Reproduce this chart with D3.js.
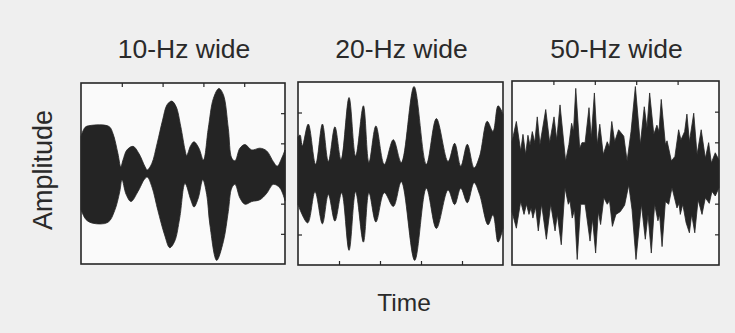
<!DOCTYPE html>
<html>
<head>
<meta charset="utf-8">
<script src="https://cdn.jsdelivr.net/npm/d3@7"></script>
<style>
  html, body { margin: 0; padding: 0; background: #efefef; }
  svg { display: block; }
  text { font-family: "Liberation Sans", Arial, Helvetica, sans-serif; fill: #2a2a2a; }
</style>
</head>
<body>
<svg id="chart" width="735" height="333"></svg>
<script>
// ---------------- DATA (time 0-100 arbitrary units, amplitude -1..1) ----------------
const panelTitles = ["10-Hz wide", "20-Hz wide", "50-Hz wide"];
const xLabel = "Time";
const yLabel = "Amplitude";
const timeTicks = [20, 40, 60, 80];
const ampTicks = [-2/3, -1/3, 0, 1/3, 2/3];

// 10-Hz wide: envelope (upper / lower edge of the dense waveform)
const upper10 = [[0,0.41],[2,0.51],[4.4,0.53],[13.7,0.52],[15.7,0.44],[18.1,0.22],[19.5,0.075],[20.6,0.15],[22.5,0.26],[25.5,0.30],[28.4,0.22],[31.4,0.075],[32.5,0.04],[34.7,0.11],[37.3,0.33],[40,0.59],[42.2,0.76],[44.5,0.80],[46.6,0.74],[48.9,0.52],[51,0.26],[51.8,0.20],[53.8,0.31],[55.4,0.35],[57.8,0.28],[60,0.15],[62.4,0.50],[64.9,0.83],[67.6,0.94],[69.8,0.87],[72.2,0.50],[73.9,0.17],[75.5,0.14],[77.9,0.28],[80.4,0.32],[83.7,0.26],[87.7,0.28],[91,0.25],[94.3,0.13],[96.2,0.08],[98.4,0.17],[100,0.26]];
const lower10 = [[0,-0.40],[2.5,-0.51],[5.9,-0.55],[13.2,-0.54],[16.5,-0.41],[19,-0.20],[20.1,-0.07],[22.1,-0.23],[24.5,-0.31],[27.9,-0.20],[31.2,-0.06],[32.5,-0.04],[34.8,-0.15],[37.7,-0.41],[41,-0.68],[43.5,-0.82],[45.9,-0.75],[48.4,-0.49],[51,-0.11],[53.8,-0.29],[55.4,-0.37],[57.5,-0.27],[59.7,-0.07],[61.6,-0.23],[63.2,-0.57],[66.5,-0.96],[69.8,-0.75],[72.2,-0.42],[73.9,-0.16],[75.5,-0.12],[77.9,-0.27],[80.4,-0.34],[83.7,-0.31],[87.7,-0.29],[91,-0.22],[94.3,-0.12],[97.5,-0.16],[100,-0.30]];

// 20-Hz wide
const upper20 = [[0,0.40],[1,0.42],[2.1,0.30],[5,0.54],[8.6,0.10],[11.9,0.54],[14.8,0.13],[18,0.51],[21,0.15],[24.9,0.83],[28.1,0.19],[31.9,0.74],[34.6,0.12],[38,0.52],[42.1,0.10],[46.5,0.37],[50.4,0.12],[56.6,0.95],[62.6,0.10],[67.5,0.60],[73.2,0.13],[76.4,0.33],[79.4,0.08],[82.6,0.32],[85.9,0.06],[88.6,0.19],[92.3,0.57],[95.1,0.46],[97.6,0.74],[100,0.65]];
const lower20 = [[0,-0.34],[4.7,-0.54],[8.3,-0.20],[11.9,-0.55],[14.8,-0.23],[18,-0.52],[21.3,-0.21],[24.9,-0.84],[28.1,-0.20],[31.9,-0.75],[34.6,-0.21],[38,-0.53],[42.1,-0.21],[46.5,-0.36],[50.4,-0.09],[56.9,-0.95],[62.6,-0.16],[67.5,-0.60],[73.2,-0.18],[76.4,-0.34],[79.4,-0.16],[82.6,-0.32],[85.9,-0.10],[88.6,-0.23],[92.7,-0.56],[95.1,-0.45],[97.6,-0.75],[100,-0.60]];

// 50-Hz wide
const upper50 = [[0,0.34],[2.1,0.56],[4.2,0.24],[5.3,0.42],[6.6,0.20],[7.7,0.41],[8.7,0.30],[9.8,0.45],[11,0.33],[12.2,0.61],[13.5,0.31],[16.3,0.69],[18.2,0.33],[20.3,0.61],[21.6,0.36],[23.2,0.74],[25.9,0.13],[27.5,0.31],[28.8,0.54],[29.7,0.45],[30.8,0.92],[32.7,0.27],[33.8,0.33],[35.3,0.33],[37.2,0.71],[38.3,0.38],[39.8,0.87],[41.2,0.31],[42.4,0.53],[44.1,0.20],[46,0.34],[47.1,0.28],[48.2,0.56],[49.6,0.34],[51.5,0.47],[54,0.40],[55.6,0.13],[57.5,0.45],[59.6,0.94],[62,0.31],[63.9,0.72],[65.2,0.49],[66.5,0.87],[68.5,0.42],[70,0.52],[71,0.45],[72.1,0.80],[74.1,0.31],[74.9,0.35],[77,0.13],[78.7,0.18],[80.5,0.47],[81.6,0.36],[83.4,0.45],[84.5,0.64],[85.7,0.34],[87.8,0.65],[89.4,0.20],[91.4,0.47],[93.4,0.16],[95,0.33],[96.3,0.11],[98.2,0.22],[100,0.14]];
const lower50 = [[0,-0.42],[2.1,-0.60],[4.2,-0.31],[5.8,-0.45],[7,-0.34],[8.2,-0.45],[9.2,-0.38],[10.1,-0.49],[11.4,-0.37],[12.7,-0.63],[14.3,-0.34],[16.6,-0.72],[18.7,-0.34],[20.8,-0.63],[21.9,-0.45],[23.8,-0.78],[25.6,-0.16],[27.2,-0.34],[28,-0.30],[29.1,-0.49],[30.2,-0.40],[31.5,-0.94],[33.2,-0.34],[35.3,-0.34],[37.7,-0.74],[38.9,-0.50],[40.4,-0.87],[41.7,-0.42],[42.8,-0.56],[44.4,-0.27],[46,-0.34],[47.1,-0.30],[48.5,-0.58],[50.2,-0.45],[52.3,-0.42],[54.4,-0.35],[56.4,-0.13],[58,-0.40],[59.9,-0.94],[62.5,-0.34],[64.4,-0.72],[65.7,-0.45],[67.3,-0.87],[68.9,-0.34],[70.5,-0.52],[71.3,-0.45],[72.5,-0.80],[74.1,-0.31],[75.7,-0.34],[77.3,-0.16],[79.7,-0.38],[80.7,-0.33],[81.3,-0.45],[82.5,-0.34],[84.1,-0.54],[85.7,-0.65],[86.8,-0.45],[88.3,-0.65],[89.9,-0.29],[91.8,-0.45],[93.4,-0.27],[95.3,-0.33],[96.6,-0.20],[98.2,-0.25],[100,-0.16]];

const uppers = [upper10, upper20, upper50];
const lowers = [lower10, lower20, lower50];

// ---------------- LAYOUT ----------------
const panelBoxes = [
  {left: 81,  right: 285, top: 83, bottom: 264, tickX: "top",    tickY: "right", curve: d3.curveCatmullRom},
  {left: 298, right: 503, top: 82, bottom: 265, tickX: "bottom", tickY: "left",  curve: d3.curveCatmullRom},
  {left: 512, right: 719, top: 81, bottom: 265, tickX: "top",    tickY: "right", curve: d3.curveLinear}
];

const svg = d3.select("#chart");
const ink = "#262626";

panelBoxes.forEach((b, i) => {
  const x = d3.scaleLinear().domain([0, 100]).range([b.left, b.right]);
  const y = d3.scaleLinear().domain([-1, 1]).range([b.bottom, b.top]);
  const g = svg.append("g");

  g.append("rect")
    .attr("x", b.left).attr("y", b.top)
    .attr("width", b.right - b.left).attr("height", b.bottom - b.top)
    .attr("fill", "#fafafa");

  const tickLen = 4;
  const xAxis = (b.tickX === "top" ? d3.axisTop(x) : d3.axisBottom(x))
    .tickValues(timeTicks).tickSizeInner(-tickLen).tickSizeOuter(0).tickFormat("");
  const yAxis = (b.tickY === "right" ? d3.axisRight(y) : d3.axisLeft(y))
    .tickValues(ampTicks).tickSizeInner(-tickLen).tickSizeOuter(0).tickFormat("");
  const gx = g.append("g")
    .attr("transform", `translate(0,${b.tickX === "top" ? b.top : b.bottom})`).call(xAxis);
  const gy = g.append("g")
    .attr("transform", `translate(${b.tickY === "right" ? b.right : b.left},0)`).call(yAxis);
  [gx, gy].forEach(a => {
    a.select(".domain").remove();
    a.selectAll("line").attr("stroke", ink).attr("stroke-width", 1.2);
  });

  const line = d3.line().x(d => x(d[0])).y(d => y(d[1])).curve(b.curve);
  const up = line(uppers[i]);
  const lo = line(lowers[i].slice().reverse()).replace(/^M/, "L");
  g.append("path")
    .attr("d", up + lo + "Z")
    .attr("fill", "#242424")
    .attr("stroke", "#242424")
    .attr("stroke-width", 0.8)
    .attr("stroke-linejoin", "round");

  g.append("rect")
    .attr("x", b.left).attr("y", b.top)
    .attr("width", b.right - b.left).attr("height", b.bottom - b.top)
    .attr("fill", "none").attr("stroke", ink).attr("stroke-width", 1.6);

  g.append("text")
    .attr("x", (b.left + b.right) / 2 + 1).attr("y", 58)
    .attr("text-anchor", "middle")
    .attr("font-size", 26.5)
    .text(panelTitles[i]);
});

svg.append("text")
  .attr("x", 404).attr("y", 311)
  .attr("text-anchor", "middle").attr("font-size", 24.5)
  .text(xLabel);

svg.append("text")
  .attr("transform", "translate(52,170) rotate(-90)")
  .attr("text-anchor", "middle").attr("font-size", 27)
  .text(yLabel);
</script>
</body>
</html>
